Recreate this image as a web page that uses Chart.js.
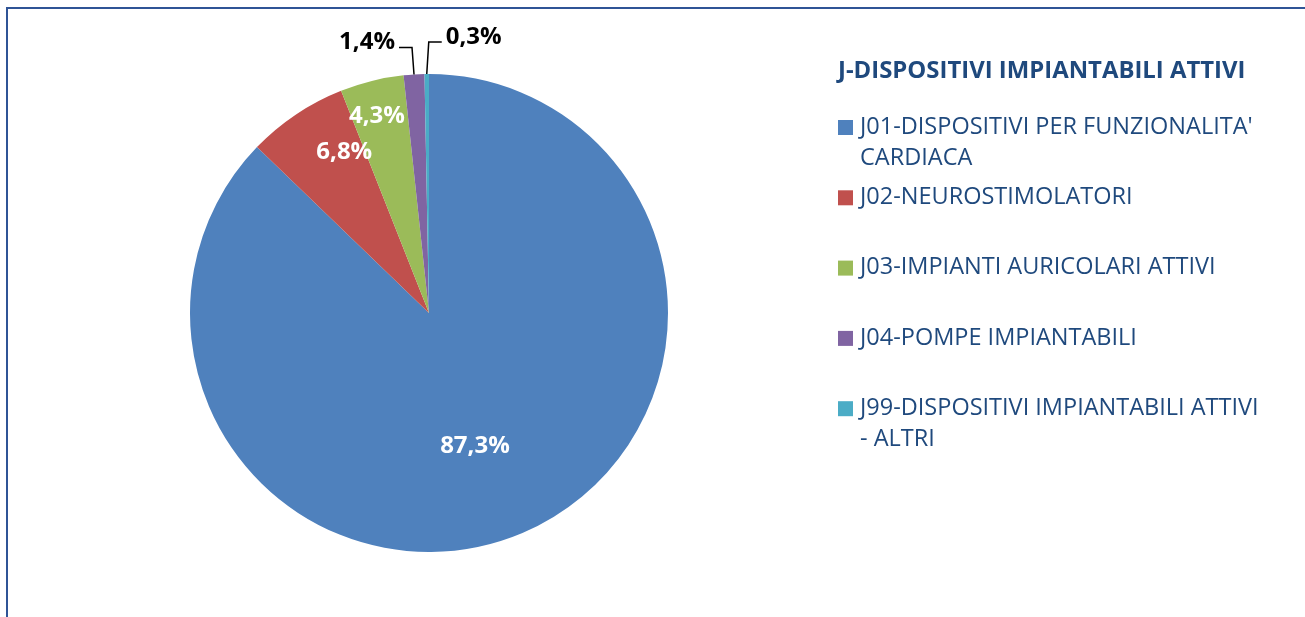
<!DOCTYPE html>
<html>
<head>
<meta charset="utf-8">
<script src="https://cdn.jsdelivr.net/npm/chart.js@4/dist/chart.umd.min.js"></script>
<style>
  html, body { margin: 0; padding: 0; background: #fff; }
  #wrap { position: relative; width: 1305px; height: 617px; }
</style>
</head>
<body>
<div id="wrap"><canvas id="pieChart"></canvas></div>
<script>
// dati
const categories = [
  "J01-DISPOSITIVI PER FUNZIONALITA' CARDIACA",
  "J02-NEUROSTIMOLATORI",
  "J03-IMPIANTI AURICOLARI ATTIVI",
  "J04-POMPE IMPIANTABILI",
  "J99-DISPOSITIVI IMPIANTABILI ATTIVI - ALTRI"
];
const values = [87.3, 6.8, 4.3, 1.4, 0.3];
const colors = ["#4F81BD", "#C0504D", "#9BBB59", "#8064A2", "#4BACC6"];
const legendTitle = "J-DISPOSITIVI IMPIANTABILI ATTIVI";

// posizione etichette: "in" dentro la fetta, "left"/"right" fuori con linea guida
const labelPlace = ["in", "in", "in", "left", "right"];
const labelRadius = [0.59, 0.76, 0.85, 1.0, 1.0];
const labelShift = [4, 6, -1, 0, 0];

const fmt = v => v.toFixed(1).replace(".", ",") + "%";

const frame = {
  id: "frame",
  beforeDraw(chart) {
    const c = chart.ctx;
    c.save();
    c.fillStyle = "#2F5496";
    c.fillRect(6, 7, chart.width - 6, 2);
    c.fillRect(6, 7, 2, chart.height - 7);
    c.restore();
  }
};

const sliceLabels = {
  id: "sliceLabels",
  afterDatasetsDraw(chart) {
    const c = chart.ctx;
    const meta = chart.getDatasetMeta(0);
    c.save();
    c.font = "bold 24px 'Open Sans'";
    c.textBaseline = "middle";
    meta.data.forEach((arc, i) => {
      const p = arc.getProps(["x", "y", "startAngle", "endAngle", "outerRadius"], true);
      const r = p.outerRadius;
      const txt = fmt(values[i]);
      if (labelPlace[i] === "in") {
        const a = (p.startAngle + p.endAngle) / 2 + labelShift[i] * Math.PI / 180;
        c.fillStyle = "#fff";
        c.textAlign = "center";
        c.fillText(txt, p.x + Math.cos(a) * r * labelRadius[i], p.y + Math.sin(a) * r * labelRadius[i]);
      } else {
        const a = (p.startAngle + p.endAngle) / 2;
        const ex = p.x + Math.cos(a) * r, ey = p.y + Math.sin(a) * r;
        const dir = labelPlace[i] === "left" ? -1 : 1;
        const kx = ex + dir * 2, ky = ey - (dir < 0 ? 27 : 32);
        c.strokeStyle = "#000";
        c.lineWidth = 1.5;
        c.beginPath();
        c.moveTo(ex, ey);
        c.lineTo(kx, ky);
        c.lineTo(kx + dir * 13, ky);
        c.stroke();
        c.fillStyle = "#000";
        c.textAlign = dir < 0 ? "right" : "left";
        c.fillText(txt, kx + dir * 17, ky - 5);
      }
    });
    c.restore();
  }
};

function wrap(c, text, maxW) {
  const words = text.split(" ");
  const lines = [];
  let line = "";
  words.forEach(w => {
    const t = line ? line + " " + w : w;
    if (c.measureText(t).width > maxW && line) {
      lines.push(line);
      line = w;
    } else {
      line = t;
    }
  });
  lines.push(line);
  return lines;
}

const sideLegend = {
  id: "sideLegend",
  afterDraw(chart) {
    const c = chart.ctx;
    const x0 = 838;
    c.save();
    c.textBaseline = "middle";
    c.textAlign = "left";
    c.fillStyle = "#1F497D";
    c.font = "bold 23.9px 'Open Sans'";
    c.fillText(legendTitle, x0, 71);
    c.font = "23.5px 'Open Sans'";
    categories.forEach((name, i) => {
      const y = 127 + i * 70.3;
      c.fillStyle = colors[i];
      c.fillRect(x0, y - 7, 15, 15);
      c.fillStyle = "#1F497D";
      wrap(c, name, 407).forEach((ln, k) => c.fillText(ln, x0 + 22, y + k * 31));
    });
    c.restore();
  }
};

new Chart(document.getElementById("pieChart"), {
  type: "pie",
  data: {
    labels: categories,
    datasets: [{
      data: values,
      backgroundColor: colors,
      borderWidth: 0
    }]
  },
  options: {
    responsive: true,
    maintainAspectRatio: false,
    animation: false,
    layout: { padding: { left: 190, right: 637, top: 74, bottom: 65 } },
    plugins: { legend: { display: false }, tooltip: { enabled: false } }
  },
  plugins: [frame, sliceLabels, sideLegend]
});
</script>
</body>
</html>
